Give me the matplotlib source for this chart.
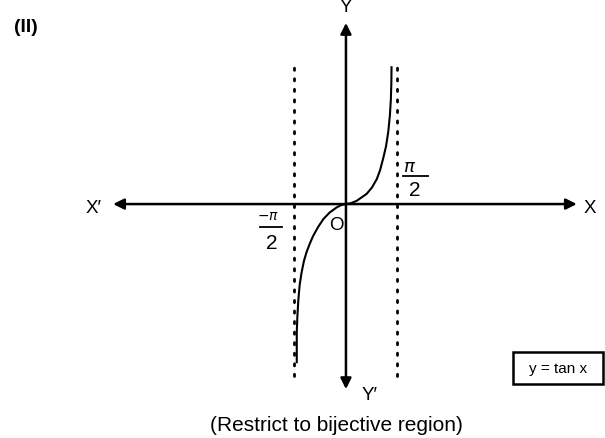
import numpy as np
import matplotlib.pyplot as plt
from matplotlib.patches import Rectangle

plt.rcParams['font.family'] = ['Liberation Sans', 'DejaVu Sans']

curve_x = [-1.50, -1.50, -1.48, -1.45, -1.41, -1.35, -1.28, -1.20, -1.10, -1.00,
           -0.85, -0.69, -0.50, -0.28, -0.14, 0.00,
           0.16, 0.33, 0.63, 0.79, 0.94, 1.04, 1.13, 1.22, 1.29, 1.34, 1.37, 1.385, 1.39]
curve_y = [-4.82, -3.90, -3.40, -2.90, -2.45, -2.07, -1.73, -1.46, -1.20, -0.97,
           -0.70, -0.46, -0.26, -0.10, -0.03, 0.00,
           0.03, 0.10, 0.31, 0.50, 0.76, 1.03, 1.37, 1.75, 2.20, 2.70, 3.20, 3.70, 4.17]

asymptotes = [-np.pi / 2, np.pi / 2]
asym_top, asym_bottom = 4.18, -5.24

fig = plt.figure(figsize=(6.05, 4.39), dpi=100)
ax = fig.add_axes([0, 0, 1, 1])
ax.set_xlim(-10.55, 7.90)
ax.set_ylim(-7.13, 6.25)
ax.axis('off')

# coordinate axes with arrow heads at both ends
arrow = dict(arrowstyle='<|-|>', mutation_scale=16, lw=1.8, color='black',
             shrinkA=0, shrinkB=0)
ax.annotate('', xy=(7.04, 0), xytext=(-7.10, 0), arrowprops=arrow)
ax.annotate('', xy=(0, 5.52), xytext=(0, -5.64), arrowprops=arrow)

# dotted asymptotes
for a in asymptotes:
    ax.plot([a, a], [asym_bottom, asym_top], color='black', lw=2,
            linestyle=(0, (0.8, 3.0)), dash_capstyle='round')

ax.plot(curve_x, curve_y, color='black', lw=1.5, solid_joinstyle='round')

# axis labels
ax.text(0, 6.02, 'Y', ha='center', va='center', fontsize=13.5)
ax.text(0.73, -5.79, 'Y′', ha='center', va='center', fontsize=13.5)
ax.text(-7.71, -0.09, 'X′', ha='center', va='center', fontsize=13.5)
ax.text(7.44, -0.09, 'X', ha='center', va='center', fontsize=13.5)
ax.text(-0.30, -0.61, 'O', ha='center', va='center', fontsize=13.5)

# pi/2 labels
ax.text(1.95, 1.16, r'$\pi$', ha='center', va='center', fontsize=13)
ax.plot([1.74, 2.50], [0.85, 0.85], color='black', lw=1.3)
ax.text(2.10, 0.44, '2', ha='center', va='center', fontsize=15)

ax.text(-2.38, -0.34, r'$-\pi$', ha='center', va='center', fontsize=10)
ax.plot([-2.62, -1.95], [-0.70, -0.70], color='black', lw=1.3)
ax.text(-2.27, -1.18, '2', ha='center', va='center', fontsize=15)

# legend box
ax.add_patch(Rectangle((5.09, -5.49), 2.75, 0.98, fill=False, lw=1.8, edgecolor='black'))
ax.text(6.46, -5.0, 'y = tan x', ha='center', va='center', fontsize=11)

ax.text(-9.76, 5.40, '(II)', ha='center', va='center', fontsize=14, fontweight='bold')
ax.text(-0.30, -6.71, '(Restrict to bijective region)', ha='center', va='center',
        fontsize=15)

fig.savefig('out.png', dpi=100)
